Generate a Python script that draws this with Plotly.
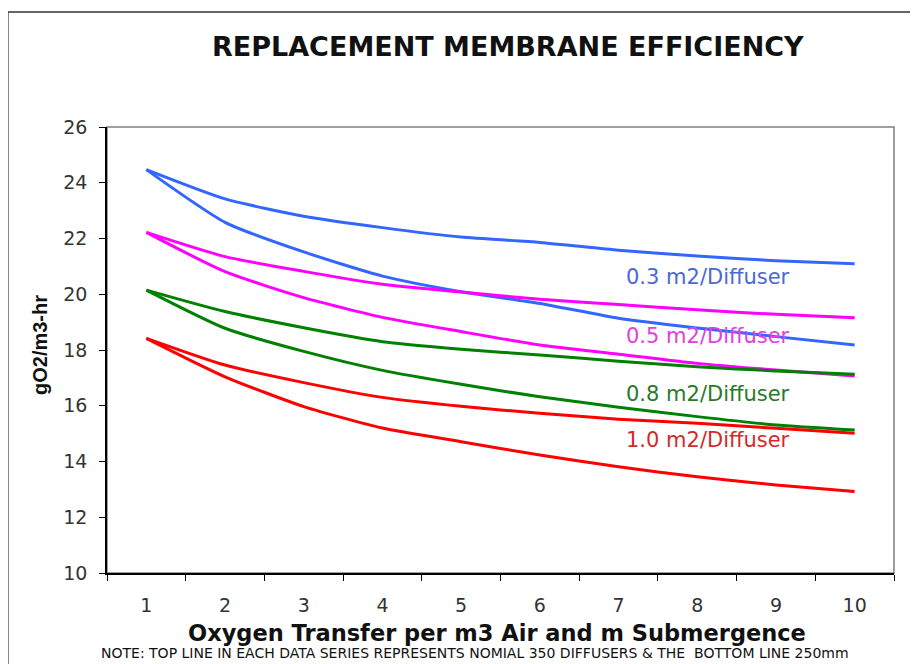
import plotly.graph_objects as go

x_vals = [1, 2, 3, 4, 5, 6, 7, 8, 9, 10]
x_tick_labels = ["1", "2", "3", "4", "5", "6", "7", "8", "9", "10"]
y_tick_vals = [10, 12, 14, 16, 18, 20, 22, 24, 26]

# top line = nominal 350 diffusers, bottom line = 250mm
d03_350 = [24.47, 23.42, 22.80, 22.39, 22.05, 21.86, 21.58, 21.37, 21.20, 21.09]
d03_250 = [24.47, 22.58, 21.52, 20.65, 20.09, 19.67, 19.14, 18.79, 18.48, 18.18]
d05_350 = [22.22, 21.35, 20.82, 20.36, 20.08, 19.82, 19.63, 19.44, 19.28, 19.16]
d05_250 = [22.22, 20.81, 19.88, 19.17, 18.66, 18.18, 17.85, 17.52, 17.28, 17.07]
d08_350 = [20.15, 19.38, 18.80, 18.30, 18.03, 17.82, 17.60, 17.40, 17.25, 17.13]
d08_250 = [20.15, 18.78, 17.95, 17.27, 16.77, 16.32, 15.95, 15.61, 15.31, 15.13]
d10_350 = [18.42, 17.46, 16.83, 16.30, 15.98, 15.73, 15.52, 15.37, 15.19, 15.01]
d10_250 = [18.42, 17.04, 15.97, 15.20, 14.71, 14.23, 13.81, 13.45, 13.16, 12.92]

series = [
    ("0.3 m2/Diffuser (350)", d03_350, "#3366FF"),
    ("0.3 m2/Diffuser (250)", d03_250, "#3366FF"),
    ("0.5 m2/Diffuser (350)", d05_350, "#FF00FF"),
    ("0.5 m2/Diffuser (250)", d05_250, "#FF00FF"),
    ("0.8 m2/Diffuser (350)", d08_350, "#008000"),
    ("0.8 m2/Diffuser (250)", d08_250, "#008000"),
    ("1.0 m2/Diffuser (350)", d10_350, "#FF0000"),
    ("1.0 m2/Diffuser (250)", d10_250, "#FF0000"),
]

labels = ["0.3 m2/Diffuser", "0.5 m2/Diffuser", "0.8 m2/Diffuser", "1.0 m2/Diffuser"]
label_y = [20.62, 18.5, 16.42, 14.77]
label_colors = ["#4a68d6", "#e040e0", "#2a7a2a", "#d42a2a"]

fig = go.Figure()
for name, vals, col in series:
    fig.add_trace(go.Scatter(x=x_vals, y=vals, mode="lines", name=name,
                             line=dict(color=col, width=3, shape="spline", smoothing=0.6),
                             showlegend=False))

for txt, yy, col in zip(labels, label_y, label_colors):
    fig.add_annotation(x=7.07, y=yy, xref="x", yref="y", text=txt, showarrow=False,
                       xanchor="left", yanchor="middle",
                       font=dict(family="DejaVu Sans", size=21, color=col))

fig.update_layout(
    width=910, height=656,
    margin=dict(l=99, r=24, t=119, b=91),
    paper_bgcolor="white", plot_bgcolor="white",
    font=dict(family="Liberation Sans, Arial", color="#222"),
)

fig.update_xaxes(range=[0.5, 10.5], tickvals=x_vals, ticktext=x_tick_labels,
                 ticks="", showgrid=False, zeroline=False, ticklabelstandoff=14,
                 showline=True, linecolor="black", linewidth=1.5,
                 tickfont=dict(family="DejaVu Sans", size=19, color="#333"),
                 minor=dict(tick0=0.5, dtick=1, ticks="outside", ticklen=6,
                            tickcolor="black", tickwidth=1.2, showgrid=False))
fig.update_yaxes(range=[10, 26], tickvals=y_tick_vals, ticks="outside", ticklen=6,
                 tickcolor="black", tickwidth=1.2, showgrid=False, zeroline=False,
                 ticklabelstandoff=8,
                 showline=True, linecolor="black", linewidth=1.5,
                 tickfont=dict(family="DejaVu Sans", size=19, color="#333"))

# plot-area border (gray) and outer chart frame
fig.add_shape(type="rect", xref="paper", yref="paper", x0=0, x1=1, y0=0, y1=1,
              line=dict(color="#808080", width=1.5), layer="below")
fig.add_shape(type="rect", xref="paper", yref="paper", x0=-0.126, x1=1.05, y0=-0.22, y1=1.258,
              line=dict(color="#333333", width=1.5), layer="below")

fig.add_annotation(xref="paper", yref="paper", x=(508 - 107) / 787, y=(573 - 47) / 446,
                   xanchor="center", yanchor="middle",
                   text="<b>REPLACEMENT MEMBRANE EFFICIENCY</b>", showarrow=False,
                   font=dict(family="DejaVu Sans", size=27, color="#111"))
fig.add_annotation(xref="paper", yref="paper", x=(40 - 107) / 787, y=(573 - 345) / 446,
                   xanchor="center", yanchor="middle", textangle=-90,
                   text="<b>gO2/m3-hr</b>", showarrow=False,
                   font=dict(family="Liberation Sans, Arial", size=20, color="#111"))
fig.add_annotation(xref="paper", yref="paper", x=(497 - 107) / 787, y=(573 - 633) / 446,
                   xanchor="center", yanchor="middle",
                   text="<b>Oxygen Transfer per m3 Air and m Submergence</b>", showarrow=False,
                   font=dict(family="DejaVu Sans", size=22.5, color="#111"))
fig.add_annotation(xref="paper", yref="paper", x=(475 - 107) / 787, y=(573 - 653) / 446,
                   xanchor="center", yanchor="middle",
                   text="NOTE: TOP LINE IN EACH DATA SERIES REPRESENTS NOMIAL 350 DIFFUSERS &amp; THE  BOTTOM LINE 250mm",
                   showarrow=False,
                   font=dict(family="DejaVu Sans", size=14, color="#111"))

fig.write_html("out.html")
